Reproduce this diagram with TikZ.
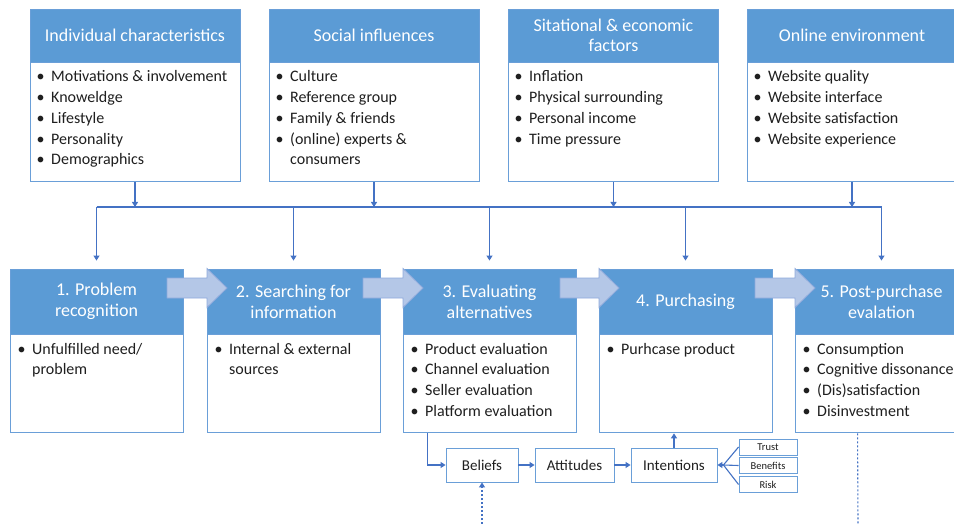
\documentclass[tikz,border=0pt]{standalone}
\usepackage{fontspec}
\setmainfont{Carlito}
\usetikzlibrary{arrows.meta,calc}

\definecolor{hdr}{HTML}{5B9BD5}
\definecolor{frame}{HTML}{6A9FD8}
\definecolor{link}{HTML}{4472C4}
\definecolor{barfill}{HTML}{B4C7E7}
\definecolor{barline}{HTML}{8FAADC}
\definecolor{ink}{HTML}{1F1F1F}

% one bulleted list: name prefix, x of text start, first baseline, entries b/text (b=1: bullet)
\newcommand{\bulletlist}[4]{%
  \foreach \bb/\txt [count=\i] in {#4} {%
    \node[listtext] (#1-\i) at (#2, {#3+20.75*(\i-1)})
      {\ifnum\bb=1 \llap{\textbullet\hspace{6.5pt}}\fi\txt};
  }%
}
% block arrow between two stages: shaft start x, head base x
\newcommand{\stagearrow}[2]{%
  \draw[blockarrow] (#1,278) -- (#2,278) -- (#2,268.5) -- ({#2+20},288)
    -- (#2,307.5) -- (#2,298) -- (#1,298) -- cycle;%
}

\begin{document}
\begin{tikzpicture}[x=1pt,y=-1pt,
  hdrbox/.style={draw=frame, fill=hdr, line width=0.9pt, text=white,
    align=center, inner sep=0pt, font=\fontsize{18}{21}\selectfont},
  bodybox/.style={draw=frame, fill=white, line width=0.9pt, inner sep=0pt},
  listtext/.style={anchor=base west, inner sep=0pt, text=ink,
    font=\fontsize{16}{20}\selectfont},
  smallbox/.style={draw=frame, fill=white, line width=0.9pt, text=ink,
    inner sep=0pt, font=\fontsize{15}{18}\selectfont},
  tinybox/.style={draw=frame, fill=white, line width=0.9pt, text=ink,
    inner sep=0pt, font=\fontsize{10.5}{12}\selectfont},
  linkline/.style={draw=link, line width=1.1pt},
  arr/.style={linkline, -{Triangle[length=5pt,width=6pt]}},
  dotarr/.style={arr, dash pattern=on 2pt off 2pt},
  dotline/.style={linkline, dash pattern=on 2pt off 2pt},
  blockarrow/.style={fill=barfill, draw=barline, line width=0.8pt}]

\fill[white] (0,0) rectangle (954,524);
\useasboundingbox (0,0) rectangle (954,524);

% ---- influence factors (top row)
\node[hdrbox, minimum width=210pt, minimum height=53pt] (h1) at (135,35.5) {Individual characteristics};
\node[hdrbox, minimum width=210pt, minimum height=53pt] (h2) at (374,35.5) {Social influences};
\node[hdrbox, minimum width=210pt, minimum height=53pt, font=\fontsize{18}{20}\selectfont] (h3) at (613.5,35.5) {Sitational \& economic\\factors};
\node[hdrbox, minimum width=210pt, minimum height=53pt] (h4) at (852,35.5) {Online environment};
\foreach \k in {1,...,4}
  \node[bodybox, minimum width=210pt, minimum height=119pt, anchor=north] (b\k) at (h\k.south) {};

\bulletlist{l1}{51}{82}{1/Motivations \& involvement, 1/Knoweldge, 1/Lifestyle, 1/Personality, 1/Demographics}
\bulletlist{l2}{290}{82}{1/Culture, 1/Reference group, 1/Family \& friends, 1/{(online) experts \&}, 0/consumers}
\bulletlist{l3}{529}{82}{1/Inflation, 1/Physical surrounding, 1/Personal income, 1/Time pressure}
\bulletlist{l4}{768}{82}{1/Website quality, 1/Website interface, 1/Website satisfaction, 1/Website experience}

% ---- decision stages
\node[hdrbox, minimum width=173pt, minimum height=65pt] (s1h) at (96.5,301.5) {1. Problem\\recognition};
\node[hdrbox, minimum width=173pt, minimum height=65pt] (s2h) at (293.5,301.5) {2. Searching for\\information};
\node[hdrbox, minimum width=173pt, minimum height=65pt] (s3h) at (489.5,301.5) {3. Evaluating\\alternatives};
\node[hdrbox, minimum width=173pt, minimum height=65pt] (s4h) at (685.5,301.5) {4. Purchasing};
\node[hdrbox, minimum width=173pt, minimum height=65pt] (s5h) at (881.5,301.5) {5. Post-purchase\\evalation};
\foreach \k in {1,...,5}
  \node[bodybox, minimum width=173pt, minimum height=98pt, anchor=north] (s\k b) at (s\k h.south) {};

\bulletlist{m1}{32}{354}{1/{Unfulfilled need/}, 0/problem}
\bulletlist{m2}{229}{354}{1/Internal \& external, 0/sources}
\bulletlist{m3}{425}{354}{1/Product evaluation, 1/Channel evaluation, 1/Seller evaluation, 1/Platform evaluation}
\bulletlist{m4}{621}{354}{1/Purhcase product}
\bulletlist{m5}{817}{354}{1/Consumption, 1/Cognitive dissonance, 1/(Dis)satisfaction, 1/Disinvestment}

\stagearrow{167}{207}
\stagearrow{363}{403}
\stagearrow{560}{599}
\stagearrow{755}{795}

% ---- factors feed every stage
\coordinate (trunkL) at (96.5,207);
\coordinate (trunkR) at (881.5,207);
\draw[linkline] (trunkL) -- (trunkR);
\foreach \k in {1,...,4}
  \draw[arr] (b\k.south) -- (b\k.south |- trunkL);
\foreach \k in {1,...,5}
  \draw[arr, shorten >=8pt] (s\k h.north |- trunkL) -- (s\k h.north);

% ---- evaluation chain
\node[smallbox, minimum width=72pt, minimum height=34pt] (bel) at (482,465) {Beliefs};
\node[smallbox, minimum width=79pt, minimum height=34pt] (att) at (574.5,465) {Attitudes};
\node[smallbox, minimum width=86pt, minimum height=34pt] (int) at (674,465) {Intentions};
\node[tinybox, minimum width=58pt, minimum height=16pt] (tru) at (768,447) {Trust};
\node[tinybox, minimum width=58pt, minimum height=16pt] (ben) at (768,465.5) {Benefits};
\node[tinybox, minimum width=58pt, minimum height=16pt] (rsk) at (768,484.5) {Risk};

\coordinate (evalout) at ($(s3b.south west)+(25,0)$);
\draw[arr] (evalout) |- (bel.west);
\draw[arr] (bel) -- (att);
\draw[arr] (att) -- (int);
\draw[arr] (int.north) -- (int.north |- s4b.south);

\coordinate (fan) at ($(int.east)+(6,0)$);
\draw[linkline] (tru.west) -- (fan);
\draw[linkline] (ben.west) -- (fan);
\draw[linkline] (rsk.west) -- (fan);
\draw[arr] (fan) -- (int.east);

\coordinate (belsrc) at (482,524);
\draw[dotarr] (belsrc) -- (bel.south);
\coordinate (postout) at ($(s5b.south west)+(63,0)$);
\coordinate (postend) at (858,524);
\draw[dotline] (postout) -- (postend);

\end{tikzpicture}
\end{document}
